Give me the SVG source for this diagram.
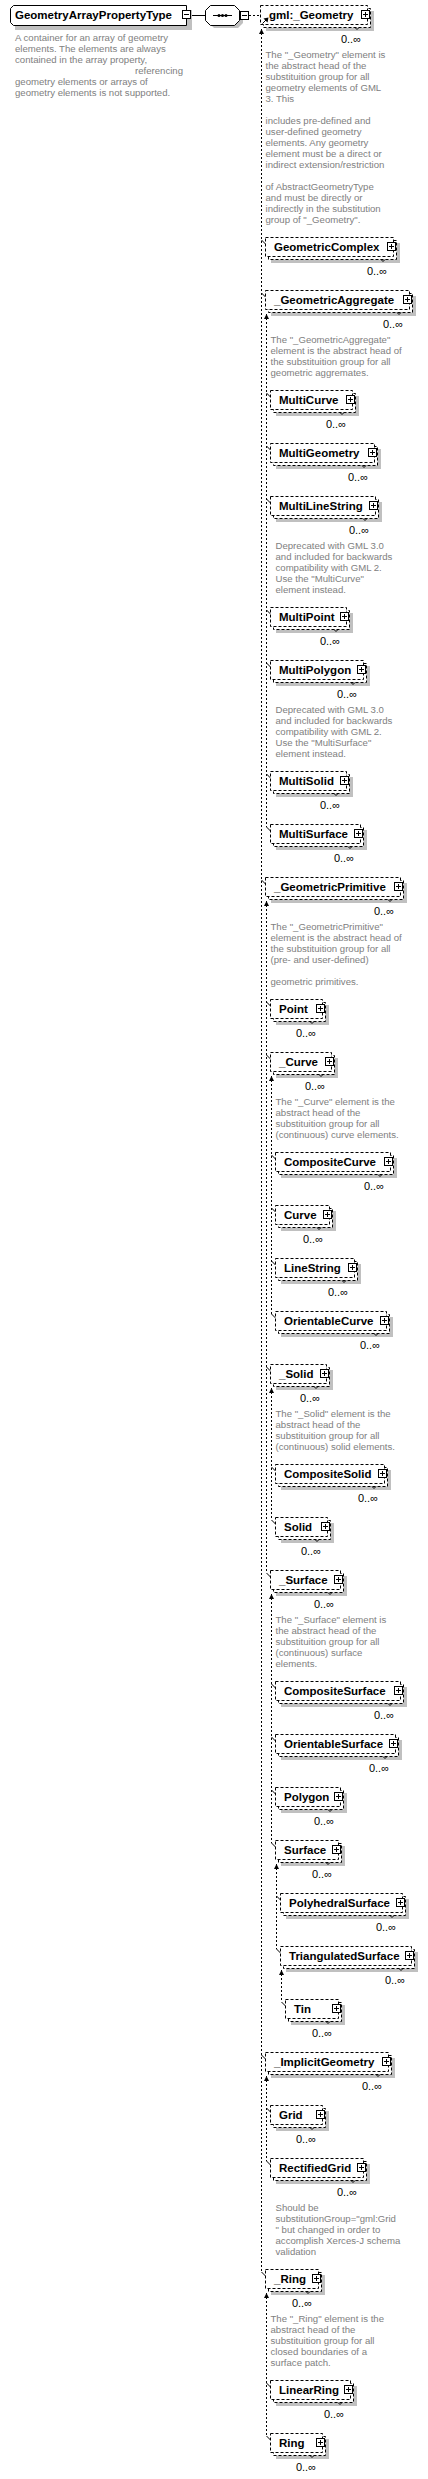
<svg xmlns="http://www.w3.org/2000/svg" xmlns:xlink="http://www.w3.org/1999/xlink" width="428" height="2479" viewBox="0 0 428 2479">
<style>
.s{fill:#c0c0c0}
.b{fill:#fff;stroke:#000;stroke-dasharray:3 2}
.n{font-family:"Liberation Sans",Arial,sans-serif;font-size:11.5px;font-weight:bold;fill:#000}
.m{font-family:"Liberation Sans",Arial,sans-serif;font-size:11px;fill:#000;text-anchor:end}
.d{font-family:"Liberation Sans",Arial,sans-serif;font-size:9.6px;fill:#808080}
.c{fill:none;stroke:#000;stroke-dasharray:2 2}
.k{fill:none;stroke:#000}
</style>
<defs>
<marker id="arr" viewBox="0 0 5 5" refX="5" refY="2.5" markerWidth="5" markerHeight="5" markerUnits="userSpaceOnUse" orient="auto-start-reverse"><path d="M0,0 L5,2.5 L0,5 Z" fill="#000"/></marker>
<g id="plus"><rect x="0.5" y="0.5" width="8" height="8" fill="#fff" stroke="#000"/><path d="M2,4.5 H7 M4.5,2 V7" stroke="#000"/><path d="M-6,17.5 L-4,19.5 L-2,17.5" fill="none" stroke="#000"/></g>
<g id="minus"><rect x="0.5" y="0.5" width="8" height="8" fill="#fff" stroke="#000"/><path d="M2,4.5 H7" stroke="#000"/></g>
</defs>
<rect width="428" height="2479" fill="#fff"/>

<g id="connectors">
<path class="k" d="M190,15.5 H205.5"/>
<path class="c" d="M249,15.5 H260.5"/>
<line class="c" x1="261.5" y1="29" x2="261.5" y2="2272" marker-start="url(#arr)"/>
<path class="k" d="M261.5,240 L265.5,244 M261.5,293 L265.5,297 M261.5,880 L265.5,884 M261.5,2055 L265.5,2059 M261.5,2272 L265.5,2276"/>
<line class="c" x1="266.5" y1="314" x2="266.5" y2="827" marker-start="url(#arr)"/>
<path class="k" d="M266.5,393 L270.5,397 M266.5,446 L270.5,450 M266.5,499 L270.5,503 M266.5,610 L270.5,614 M266.5,663 L270.5,667 M266.5,774 L270.5,778 M266.5,827 L270.5,831"/>
<line class="c" x1="266.5" y1="901" x2="266.5" y2="1573" marker-start="url(#arr)"/>
<path class="k" d="M266.5,1002 L270.5,1006 M266.5,1055 L270.5,1059 M266.5,1367 L270.5,1371 M266.5,1573 L270.5,1577"/>
<line class="c" x1="271.5" y1="1076" x2="271.5" y2="1314" marker-start="url(#arr)"/>
<path class="k" d="M271.5,1155 L275.5,1159 M271.5,1208 L275.5,1212 M271.5,1261 L275.5,1265 M271.5,1314 L275.5,1318"/>
<line class="c" x1="271.5" y1="1388" x2="271.5" y2="1520" marker-start="url(#arr)"/>
<path class="k" d="M271.5,1467 L275.5,1471 M271.5,1520 L275.5,1524"/>
<line class="c" x1="271.5" y1="1594" x2="271.5" y2="1843" marker-start="url(#arr)"/>
<path class="k" d="M271.5,1684 L275.5,1688 M271.5,1737 L275.5,1741 M271.5,1790 L275.5,1794 M271.5,1843 L275.5,1847"/>
<line class="c" x1="276.5" y1="1864" x2="276.5" y2="1949" marker-start="url(#arr)"/>
<path class="k" d="M276.5,1896 L280.5,1900 M276.5,1949 L280.5,1953"/>
<line class="c" x1="281.5" y1="1970" x2="281.5" y2="2002" marker-start="url(#arr)"/>
<path class="k" d="M281.5,2002 L285.5,2006"/>
<line class="c" x1="266.5" y1="2076" x2="266.5" y2="2161" marker-start="url(#arr)"/>
<path class="k" d="M266.5,2108 L270.5,2112 M266.5,2161 L270.5,2165"/>
<line class="c" x1="266.5" y1="2293" x2="266.5" y2="2436" marker-start="url(#arr)"/>
<path class="k" d="M266.5,2383 L270.5,2387 M266.5,2436 L270.5,2440"/>
</g>

<g id="root">
<rect class="s" x="15" y="10" width="177" height="20"/>
<path d="M13.5,5.5 H186.5 V25.5 H13.5 L10.5,22.5 V8.5 Z" fill="#fff" stroke="#000"/>
<text class="n" x="15" y="19">GeometryArrayPropertyType</text>
<use xlink:href="#minus" x="182" y="10"/>
<text class="d"><tspan x="15" y="41">A container for an array of geometry</tspan><tspan x="15" dy="11">elements. The elements are always</tspan><tspan x="15" dy="11">contained in the array property,</tspan><tspan x="135" dy="11">referencing</tspan><tspan x="15" dy="11">geometry elements or arrays of</tspan><tspan x="15" dy="11">geometry elements is not supported.</tspan></text>
</g>

<g id="sequence">
<path class="s" d="M214,9 H238 L243,14 V23 L238,28 H214 L209,23 V14 Z"/>
<path d="M210.5,5.5 H234.5 L239.5,10.5 V20.5 L234.5,25.5 H210.5 L205.5,20.5 V10.5 Z" fill="#fff" stroke="#000"/>
<path class="k" d="M213,15.5 H232"/>
<circle cx="219" cy="15.5" r="1.5"/><circle cx="222.5" cy="15.5" r="1.5"/><circle cx="226" cy="15.5" r="1.5"/>
<use xlink:href="#minus" x="240" y="11"/>
</g>

<g id="gml_Geometry">
<rect class="s" x="266" y="11" width="108" height="20"/>
<rect class="b" x="263.5" y="8.5" width="107" height="19"/>
<rect class="b" x="260.5" y="5.5" width="107" height="19"/>
<text class="n" x="269" y="19">gml:_Geometry</text>
<path class="k" d="M262.5,23.5 L266,20"/><path d="M268.5,17.5 L263.5,18.5 L267.5,22.5 Z"/>
<use xlink:href="#plus" x="361" y="10"/>
<text class="m" x="361" y="43">0..∞</text>
<text class="d"><tspan x="265.5" y="57.5">The "_Geometry" element is</tspan><tspan x="265.5" dy="11">the abstract head of the</tspan><tspan x="265.5" dy="11">substituition group for all</tspan><tspan x="265.5" dy="11">geometry elements of GML</tspan><tspan x="265.5" dy="11">3. This</tspan><tspan x="265.5" dy="22">includes pre-defined and</tspan><tspan x="265.5" dy="11">user-defined geometry</tspan><tspan x="265.5" dy="11">elements. Any geometry</tspan><tspan x="265.5" dy="11">element must be a direct or</tspan><tspan x="265.5" dy="11">indirect extension/restriction</tspan><tspan x="265.5" dy="22">of AbstractGeometryType</tspan><tspan x="265.5" dy="11">and must be directly or</tspan><tspan x="265.5" dy="11">indirectly in the substitution</tspan><tspan x="265.5" dy="11">group of "_Geometry".</tspan></text>
</g>

<g id="GeometricComplex">
<rect class="s" x="271" y="243" width="129" height="20"/>
<rect class="b" x="268.5" y="240.5" width="128" height="19"/>
<rect class="b" x="265.5" y="237.5" width="128" height="19"/>
<text class="n" x="274" y="251">GeometricComplex</text>
<use xlink:href="#plus" x="387" y="242"/>
<text class="m" x="387" y="275">0..∞</text>
</g>

<g id="_GeometricAggregate">
<rect class="s" x="271" y="296" width="145" height="20"/>
<rect class="b" x="268.5" y="293.5" width="144" height="19"/>
<rect class="b" x="265.5" y="290.5" width="144" height="19"/>
<text class="n" x="274" y="304">_GeometricAggregate</text>
<use xlink:href="#plus" x="403" y="295"/>
<text class="m" x="403" y="328">0..∞</text>
<text class="d"><tspan x="270.5" y="342.5">The "_GeometricAggregate"</tspan><tspan x="270.5" dy="11">element is the abstract head of</tspan><tspan x="270.5" dy="11">the substituition group for all</tspan><tspan x="270.5" dy="11">geometric aggremates.</tspan></text>
</g>

<g id="MultiCurve">
<rect class="s" x="276" y="396" width="83" height="20"/>
<rect class="b" x="273.5" y="393.5" width="82" height="19"/>
<rect class="b" x="270.5" y="390.5" width="82" height="19"/>
<text class="n" x="279" y="404">MultiCurve</text>
<use xlink:href="#plus" x="346" y="395"/>
<text class="m" x="346" y="428">0..∞</text>
</g>

<g id="MultiGeometry">
<rect class="s" x="276" y="449" width="105" height="20"/>
<rect class="b" x="273.5" y="446.5" width="104" height="19"/>
<rect class="b" x="270.5" y="443.5" width="104" height="19"/>
<text class="n" x="279" y="457">MultiGeometry</text>
<use xlink:href="#plus" x="368" y="448"/>
<text class="m" x="368" y="481">0..∞</text>
</g>

<g id="MultiLineString">
<rect class="s" x="276" y="502" width="106" height="20"/>
<rect class="b" x="273.5" y="499.5" width="105" height="19"/>
<rect class="b" x="270.5" y="496.5" width="105" height="19"/>
<text class="n" x="279" y="510">MultiLineString</text>
<use xlink:href="#plus" x="369" y="501"/>
<text class="m" x="369" y="534">0..∞</text>
<text class="d"><tspan x="275.5" y="548.5">Deprecated with GML 3.0</tspan><tspan x="275.5" dy="11">and included for backwards</tspan><tspan x="275.5" dy="11">compatibility with GML 2.</tspan><tspan x="275.5" dy="11">Use the "MultiCurve"</tspan><tspan x="275.5" dy="11">element instead.</tspan></text>
</g>

<g id="MultiPoint">
<rect class="s" x="276" y="613" width="77" height="20"/>
<rect class="b" x="273.5" y="610.5" width="76" height="19"/>
<rect class="b" x="270.5" y="607.5" width="76" height="19"/>
<text class="n" x="279" y="621">MultiPoint</text>
<use xlink:href="#plus" x="340" y="612"/>
<text class="m" x="340" y="645">0..∞</text>
</g>

<g id="MultiPolygon">
<rect class="s" x="276" y="666" width="94" height="20"/>
<rect class="b" x="273.5" y="663.5" width="93" height="19"/>
<rect class="b" x="270.5" y="660.5" width="93" height="19"/>
<text class="n" x="279" y="674">MultiPolygon</text>
<use xlink:href="#plus" x="357" y="665"/>
<text class="m" x="357" y="698">0..∞</text>
<text class="d"><tspan x="275.5" y="712.5">Deprecated with GML 3.0</tspan><tspan x="275.5" dy="11">and included for backwards</tspan><tspan x="275.5" dy="11">compatibility with GML 2.</tspan><tspan x="275.5" dy="11">Use the "MultiSurface"</tspan><tspan x="275.5" dy="11">element instead.</tspan></text>
</g>

<g id="MultiSolid">
<rect class="s" x="276" y="777" width="77" height="20"/>
<rect class="b" x="273.5" y="774.5" width="76" height="19"/>
<rect class="b" x="270.5" y="771.5" width="76" height="19"/>
<text class="n" x="279" y="785">MultiSolid</text>
<use xlink:href="#plus" x="340" y="776"/>
<text class="m" x="340" y="809">0..∞</text>
</g>

<g id="MultiSurface">
<rect class="s" x="276" y="830" width="91" height="20"/>
<rect class="b" x="273.5" y="827.5" width="90" height="19"/>
<rect class="b" x="270.5" y="824.5" width="90" height="19"/>
<text class="n" x="279" y="838">MultiSurface</text>
<use xlink:href="#plus" x="354" y="829"/>
<text class="m" x="354" y="862">0..∞</text>
</g>

<g id="_GeometricPrimitive">
<rect class="s" x="271" y="883" width="136" height="20"/>
<rect class="b" x="268.5" y="880.5" width="135" height="19"/>
<rect class="b" x="265.5" y="877.5" width="135" height="19"/>
<text class="n" x="274" y="891">_GeometricPrimitive</text>
<use xlink:href="#plus" x="394" y="882"/>
<text class="m" x="394" y="915">0..∞</text>
<text class="d"><tspan x="270.5" y="929.5">The "_GeometricPrimitive"</tspan><tspan x="270.5" dy="11">element is the abstract head of</tspan><tspan x="270.5" dy="11">the substituition group for all</tspan><tspan x="270.5" dy="11">(pre- and user-defined)</tspan><tspan x="270.5" dy="22">geometric primitives.</tspan></text>
</g>

<g id="Point">
<rect class="s" x="276" y="1005" width="53" height="20"/>
<rect class="b" x="273.5" y="1002.5" width="52" height="19"/>
<rect class="b" x="270.5" y="999.5" width="52" height="19"/>
<text class="n" x="279" y="1013">Point</text>
<use xlink:href="#plus" x="316" y="1004"/>
<text class="m" x="316" y="1037">0..∞</text>
</g>

<g id="_Curve">
<rect class="s" x="276" y="1058" width="62" height="20"/>
<rect class="b" x="273.5" y="1055.5" width="61" height="19"/>
<rect class="b" x="270.5" y="1052.5" width="61" height="19"/>
<text class="n" x="279" y="1066">_Curve</text>
<use xlink:href="#plus" x="325" y="1057"/>
<text class="m" x="325" y="1090">0..∞</text>
<text class="d"><tspan x="275.5" y="1104.5">The "_Curve" element is the</tspan><tspan x="275.5" dy="11">abstract head of the</tspan><tspan x="275.5" dy="11">substituition group for all</tspan><tspan x="275.5" dy="11">(continuous) curve elements.</tspan></text>
</g>

<g id="CompositeCurve">
<rect class="s" x="281" y="1158" width="116" height="20"/>
<rect class="b" x="278.5" y="1155.5" width="115" height="19"/>
<rect class="b" x="275.5" y="1152.5" width="115" height="19"/>
<text class="n" x="284" y="1166">CompositeCurve</text>
<use xlink:href="#plus" x="384" y="1157"/>
<text class="m" x="384" y="1190">0..∞</text>
</g>

<g id="Curve">
<rect class="s" x="281" y="1211" width="55" height="20"/>
<rect class="b" x="278.5" y="1208.5" width="54" height="19"/>
<rect class="b" x="275.5" y="1205.5" width="54" height="19"/>
<text class="n" x="284" y="1219">Curve</text>
<use xlink:href="#plus" x="323" y="1210"/>
<text class="m" x="323" y="1243">0..∞</text>
</g>

<g id="LineString">
<rect class="s" x="281" y="1264" width="80" height="20"/>
<rect class="b" x="278.5" y="1261.5" width="79" height="19"/>
<rect class="b" x="275.5" y="1258.5" width="79" height="19"/>
<text class="n" x="284" y="1272">LineString</text>
<use xlink:href="#plus" x="348" y="1263"/>
<text class="m" x="348" y="1296">0..∞</text>
</g>

<g id="OrientableCurve">
<rect class="s" x="281" y="1317" width="112" height="20"/>
<rect class="b" x="278.5" y="1314.5" width="111" height="19"/>
<rect class="b" x="275.5" y="1311.5" width="111" height="19"/>
<text class="n" x="284" y="1325">OrientableCurve</text>
<use xlink:href="#plus" x="380" y="1316"/>
<text class="m" x="380" y="1349">0..∞</text>
</g>

<g id="_Solid">
<rect class="s" x="276" y="1370" width="57" height="20"/>
<rect class="b" x="273.5" y="1367.5" width="56" height="19"/>
<rect class="b" x="270.5" y="1364.5" width="56" height="19"/>
<text class="n" x="279" y="1378">_Solid</text>
<use xlink:href="#plus" x="320" y="1369"/>
<text class="m" x="320" y="1402">0..∞</text>
<text class="d"><tspan x="275.5" y="1416.5">The "_Solid" element is the</tspan><tspan x="275.5" dy="11">abstract head of the</tspan><tspan x="275.5" dy="11">substituition group for all</tspan><tspan x="275.5" dy="11">(continuous) solid elements.</tspan></text>
</g>

<g id="CompositeSolid">
<rect class="s" x="281" y="1470" width="110" height="20"/>
<rect class="b" x="278.5" y="1467.5" width="109" height="19"/>
<rect class="b" x="275.5" y="1464.5" width="109" height="19"/>
<text class="n" x="284" y="1478">CompositeSolid</text>
<use xlink:href="#plus" x="378" y="1469"/>
<text class="m" x="378" y="1502">0..∞</text>
</g>

<g id="Solid">
<rect class="s" x="281" y="1523" width="53" height="20"/>
<rect class="b" x="278.5" y="1520.5" width="52" height="19"/>
<rect class="b" x="275.5" y="1517.5" width="52" height="19"/>
<text class="n" x="284" y="1531">Solid</text>
<use xlink:href="#plus" x="321" y="1522"/>
<text class="m" x="321" y="1555">0..∞</text>
</g>

<g id="_Surface">
<rect class="s" x="276" y="1576" width="71" height="20"/>
<rect class="b" x="273.5" y="1573.5" width="70" height="19"/>
<rect class="b" x="270.5" y="1570.5" width="70" height="19"/>
<text class="n" x="279" y="1584">_Surface</text>
<use xlink:href="#plus" x="334" y="1575"/>
<text class="m" x="334" y="1608">0..∞</text>
<text class="d"><tspan x="275.5" y="1622.5">The "_Surface" element is</tspan><tspan x="275.5" dy="11">the abstract head of the</tspan><tspan x="275.5" dy="11">substituition group for all</tspan><tspan x="275.5" dy="11">(continuous) surface</tspan><tspan x="275.5" dy="11">elements.</tspan></text>
</g>

<g id="CompositeSurface">
<rect class="s" x="281" y="1687" width="126" height="20"/>
<rect class="b" x="278.5" y="1684.5" width="125" height="19"/>
<rect class="b" x="275.5" y="1681.5" width="125" height="19"/>
<text class="n" x="284" y="1695">CompositeSurface</text>
<use xlink:href="#plus" x="394" y="1686"/>
<text class="m" x="394" y="1719">0..∞</text>
</g>

<g id="OrientableSurface">
<rect class="s" x="281" y="1740" width="121" height="20"/>
<rect class="b" x="278.5" y="1737.5" width="120" height="19"/>
<rect class="b" x="275.5" y="1734.5" width="120" height="19"/>
<text class="n" x="284" y="1748">OrientableSurface</text>
<use xlink:href="#plus" x="389" y="1739"/>
<text class="m" x="389" y="1772">0..∞</text>
</g>

<g id="Polygon">
<rect class="s" x="281" y="1793" width="66" height="20"/>
<rect class="b" x="278.5" y="1790.5" width="65" height="19"/>
<rect class="b" x="275.5" y="1787.5" width="65" height="19"/>
<text class="n" x="284" y="1801">Polygon</text>
<use xlink:href="#plus" x="334" y="1792"/>
<text class="m" x="334" y="1825">0..∞</text>
</g>

<g id="Surface">
<rect class="s" x="281" y="1846" width="64" height="20"/>
<rect class="b" x="278.5" y="1843.5" width="63" height="19"/>
<rect class="b" x="275.5" y="1840.5" width="63" height="19"/>
<text class="n" x="284" y="1854">Surface</text>
<use xlink:href="#plus" x="332" y="1845"/>
<text class="m" x="332" y="1878">0..∞</text>
</g>

<g id="PolyhedralSurface">
<rect class="s" x="286" y="1899" width="123" height="20"/>
<rect class="b" x="283.5" y="1896.5" width="122" height="19"/>
<rect class="b" x="280.5" y="1893.5" width="122" height="19"/>
<text class="n" x="289" y="1907">PolyhedralSurface</text>
<use xlink:href="#plus" x="396" y="1898"/>
<text class="m" x="396" y="1931">0..∞</text>
</g>

<g id="TriangulatedSurface">
<rect class="s" x="286" y="1952" width="132" height="20"/>
<rect class="b" x="283.5" y="1949.5" width="131" height="19"/>
<rect class="b" x="280.5" y="1946.5" width="131" height="19"/>
<text class="n" x="289" y="1960">TriangulatedSurface</text>
<use xlink:href="#plus" x="405" y="1951"/>
<text class="m" x="405" y="1984">0..∞</text>
</g>

<g id="Tin">
<rect class="s" x="291" y="2005" width="54" height="20"/>
<rect class="b" x="288.5" y="2002.5" width="53" height="19"/>
<rect class="b" x="285.5" y="1999.5" width="53" height="19"/>
<text class="n" x="294" y="2013">Tin</text>
<use xlink:href="#plus" x="332" y="2004"/>
<text class="m" x="332" y="2037">0..∞</text>
</g>

<g id="_ImplicitGeometry">
<rect class="s" x="271" y="2058" width="124" height="20"/>
<rect class="b" x="268.5" y="2055.5" width="123" height="19"/>
<rect class="b" x="265.5" y="2052.5" width="123" height="19"/>
<text class="n" x="274" y="2066">_ImplicitGeometry</text>
<use xlink:href="#plus" x="382" y="2057"/>
<text class="m" x="382" y="2090">0..∞</text>
</g>

<g id="Grid">
<rect class="s" x="276" y="2111" width="53" height="20"/>
<rect class="b" x="273.5" y="2108.5" width="52" height="19"/>
<rect class="b" x="270.5" y="2105.5" width="52" height="19"/>
<text class="n" x="279" y="2119">Grid</text>
<use xlink:href="#plus" x="316" y="2110"/>
<text class="m" x="316" y="2143">0..∞</text>
</g>

<g id="RectifiedGrid">
<rect class="s" x="276" y="2164" width="94" height="20"/>
<rect class="b" x="273.5" y="2161.5" width="93" height="19"/>
<rect class="b" x="270.5" y="2158.5" width="93" height="19"/>
<text class="n" x="279" y="2172">RectifiedGrid</text>
<use xlink:href="#plus" x="357" y="2163"/>
<text class="m" x="357" y="2196">0..∞</text>
<text class="d"><tspan x="275.5" y="2210.5">Should be</tspan><tspan x="275.5" dy="11">substitutionGroup="gml:Grid</tspan><tspan x="275.5" dy="11">" but changed in order to</tspan><tspan x="275.5" dy="11">accomplish Xerces-J schema</tspan><tspan x="275.5" dy="11">validation</tspan></text>
</g>

<g id="_Ring">
<rect class="s" x="271" y="2275" width="54" height="20"/>
<rect class="b" x="268.5" y="2272.5" width="53" height="19"/>
<rect class="b" x="265.5" y="2269.5" width="53" height="19"/>
<text class="n" x="274" y="2283">_Ring</text>
<use xlink:href="#plus" x="312" y="2274"/>
<text class="m" x="312" y="2307">0..∞</text>
<text class="d"><tspan x="270.5" y="2321.5">The "_Ring" element is the</tspan><tspan x="270.5" dy="11">abstract head of the</tspan><tspan x="270.5" dy="11">substituition group for all</tspan><tspan x="270.5" dy="11">closed boundaries of a</tspan><tspan x="270.5" dy="11">surface patch.</tspan></text>
</g>

<g id="LinearRing">
<rect class="s" x="276" y="2386" width="81" height="20"/>
<rect class="b" x="273.5" y="2383.5" width="80" height="19"/>
<rect class="b" x="270.5" y="2380.5" width="80" height="19"/>
<text class="n" x="279" y="2394">LinearRing</text>
<use xlink:href="#plus" x="344" y="2385"/>
<text class="m" x="344" y="2418">0..∞</text>
</g>

<g id="Ring">
<rect class="s" x="276" y="2439" width="53" height="20"/>
<rect class="b" x="273.5" y="2436.5" width="52" height="19"/>
<rect class="b" x="270.5" y="2433.5" width="52" height="19"/>
<text class="n" x="279" y="2447">Ring</text>
<use xlink:href="#plus" x="316" y="2438"/>
<text class="m" x="316" y="2471">0..∞</text>
</g>
</svg>
